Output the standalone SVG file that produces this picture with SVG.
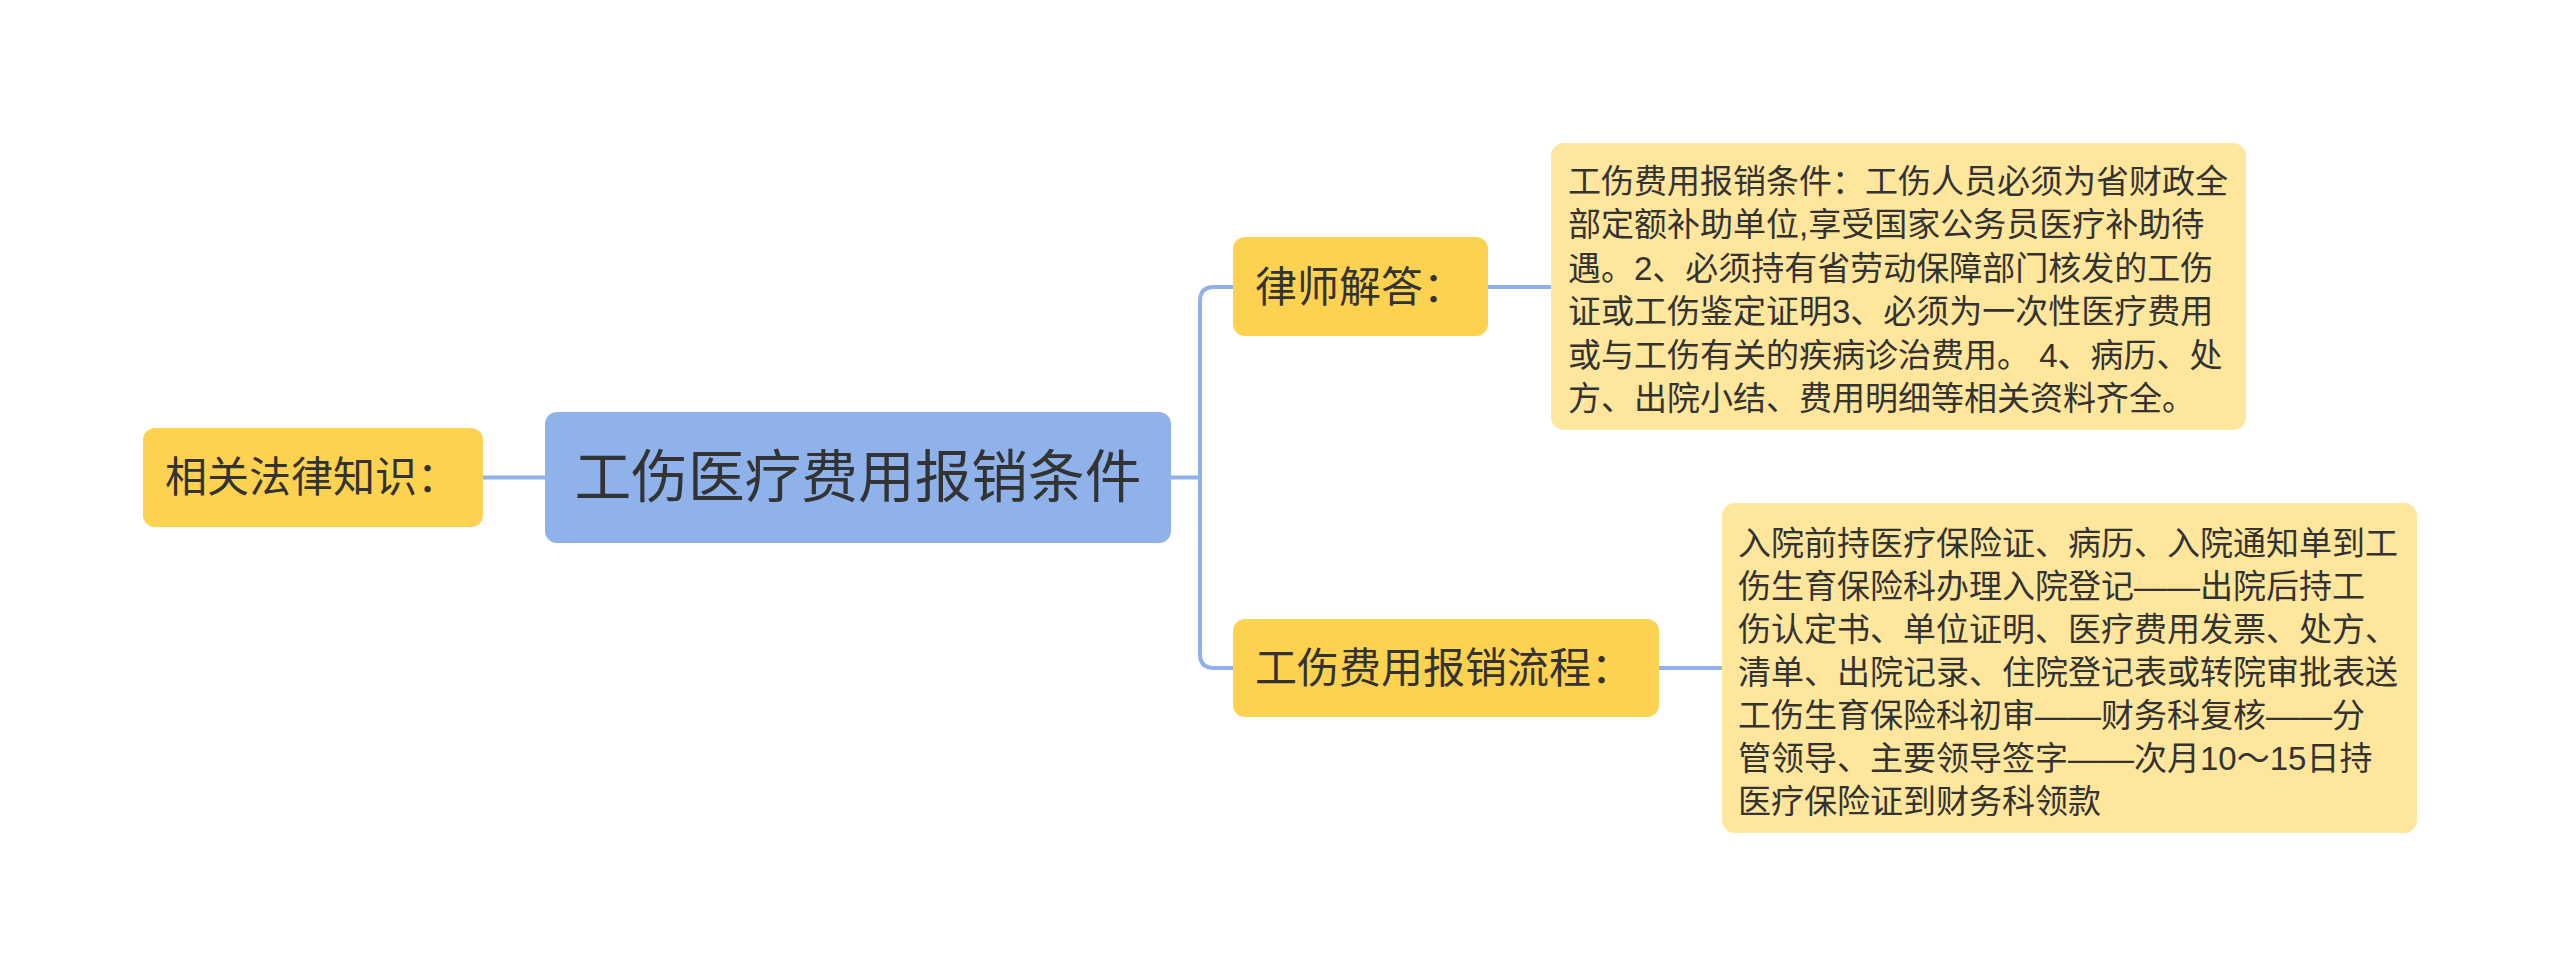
<svg xmlns="http://www.w3.org/2000/svg" width="2560" height="977" viewBox="0 0 2560 977">
  <style>
    .t { font-family: "Liberation Sans", "Noto Sans CJK SC", sans-serif; fill: #333333; dominant-baseline: central; }
    .root { fill: #8fb2eb; }
    .l1 { fill: #fdd250; }
    .leaf { fill: #fee69c; }
    .conn { fill: none; stroke: #8fb2eb; stroke-width: 4; stroke-linecap: butt; }
  </style>
  <rect x="0" y="0" width="2560" height="977" fill="#ffffff"/>

  <g id="connectors">
    <path class="conn" d="M483 477.5 H545"/>
    <path class="conn" d="M1171 477.5 H1200"/>
    <path class="conn" d="M1233 287 H1214 Q1200 287 1200 301 V654 Q1200 668 1214 668 H1233"/>
    <path class="conn" d="M1488 287 H1551"/>
    <path class="conn" d="M1659 668 H1722"/>
  </g>

  <g id="node-left">
    <rect class="l1" x="143" y="428" width="340" height="99" rx="12"/>
    <text class="t" x="165" y="477.5" font-size="42">相关法律知识：</text>
  </g>

  <g id="node-root">
    <rect class="root" x="545" y="412" width="626" height="131" rx="12"/>
    <text class="t" x="858" y="477.5" font-size="56.7" text-anchor="middle">工伤医疗费用报销条件</text>
  </g>

  <g id="node-lawyer">
    <rect class="l1" x="1233" y="237" width="255" height="99" rx="12"/>
    <text class="t" x="1255" y="287" font-size="42">律师解答：</text>
  </g>

  <g id="node-process">
    <rect class="l1" x="1233" y="619" width="426" height="98" rx="12"/>
    <text class="t" x="1255" y="668" font-size="42">工伤费用报销流程：</text>
  </g>

  <g id="node-answer">
    <rect class="leaf" x="1551" y="143" width="695" height="287" rx="13"/>
    <text class="t" font-size="33" xml:space="preserve">
      <tspan x="1568" y="181">工伤费用报销条件：工伤人员必须为省财政全</tspan>
      <tspan x="1568" y="224.4">部定额补助单位,享受国家公务员医疗补助待</tspan>
      <tspan x="1568" y="267.8">遇。2、必须持有省劳动保障部门核发的工伤</tspan>
      <tspan x="1568" y="311.2">证或工伤鉴定证明3、必须为一次性医疗费用</tspan>
      <tspan x="1568" y="354.6">或与工伤有关的疾病诊治费用。 4、病历、处</tspan>
      <tspan x="1568" y="398">方、出院小结、费用明细等相关资料齐全。</tspan>
    </text>
  </g>

  <g id="node-steps">
    <rect class="leaf" x="1722" y="503" width="695" height="330" rx="13"/>
    <text class="t" font-size="33">
      <tspan x="1738" y="543">入院前持医疗保险证、病历、入院通知单到工</tspan>
      <tspan x="1738" y="586">伤生育保险科办理入院登记——出院后持工</tspan>
      <tspan x="1738" y="629">伤认定书、单位证明、医疗费用发票、处方、</tspan>
      <tspan x="1738" y="672">清单、出院记录、住院登记表或转院审批表送</tspan>
      <tspan x="1738" y="715">工伤生育保险科初审——财务科复核——分</tspan>
      <tspan x="1738" y="758">管领导、主要领导签字——次月10～15日持</tspan>
      <tspan x="1738" y="801">医疗保险证到财务科领款</tspan>
    </text>
  </g>
</svg>
